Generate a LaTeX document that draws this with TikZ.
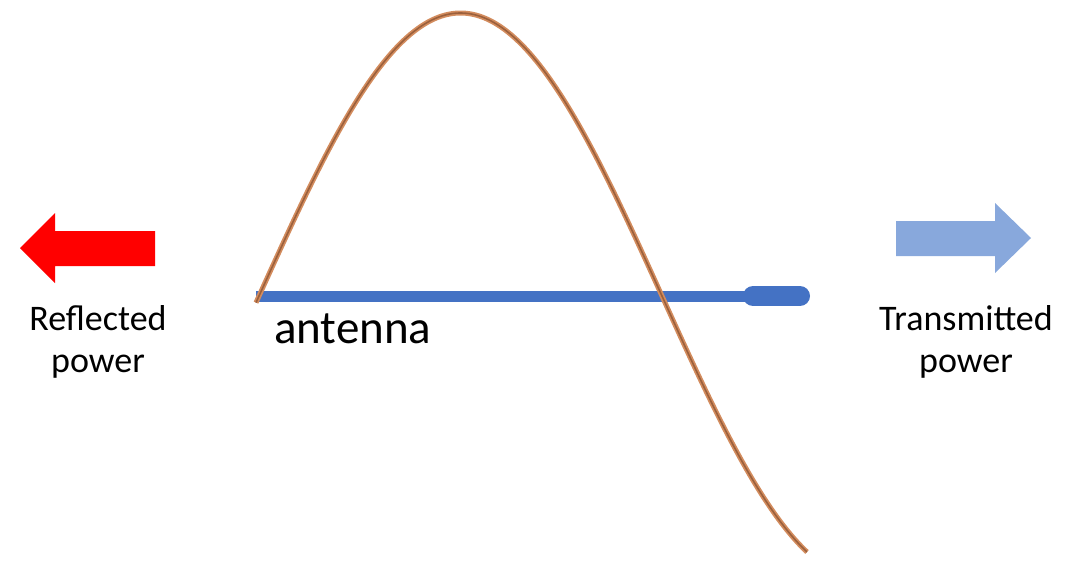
\documentclass[tikz,border=0pt]{standalone}
\usepackage{fontspec}
\setmainfont{Carlito}
\definecolor{antblue}{HTML}{4472C4}
\definecolor{txblue}{HTML}{88A8DC}
\definecolor{refred}{HTML}{FF0000}
\definecolor{copperout}{HTML}{D38C5E}
\definecolor{copperin}{HTML}{8E5634}
\begin{document}
\begin{tikzpicture}[x={(1pt,0)},y={(0,-1pt)},
  lbl/.style={inner sep=0pt, align=center, font=\fontsize{36}{42}\selectfont}]
\useasboundingbox (0,0) rectangle (1081,564);
% reflected arrow
\fill[refred] (20,248) -- (55,213) -- (55,231) -- (155,231) -- (155,266) -- (55,266) -- (55,283) -- cycle;
% transmitted arrow
\fill[txblue] (1031,238) -- (995,203) -- (995,221) -- (896,221) -- (896,256) -- (995,256) -- (995,273) -- cycle;
% antenna
\draw[antblue, line width=11pt] (256,296) coordinate (a1) -- (755,296) coordinate (a2);
\draw[antblue, line width=20pt, line cap=round] (753,296) coordinate (t1) -- (800,296) coordinate (t2);
% wave
\draw[copperout, line width=5pt] plot[domain=256:807, samples=240] (\x, {296-283*sin((\x-259)*0.44665)});
\draw[copperin, line width=1.6pt, opacity=0.8] plot[domain=256:807, samples=240] (\x, {296-283*sin((\x-259)*0.44665)});
% labels
\node[lbl, anchor=center] (refl) at (98,342) {Reflected\\power};
\node[lbl, anchor=center] (trans) at (966,342) {Transmitted\\power};
\node[inner sep=0pt, anchor=base west, font=\fontsize{47}{56}\selectfont] (ant) at (274,343) {antenna};
\end{tikzpicture}
\end{document}
